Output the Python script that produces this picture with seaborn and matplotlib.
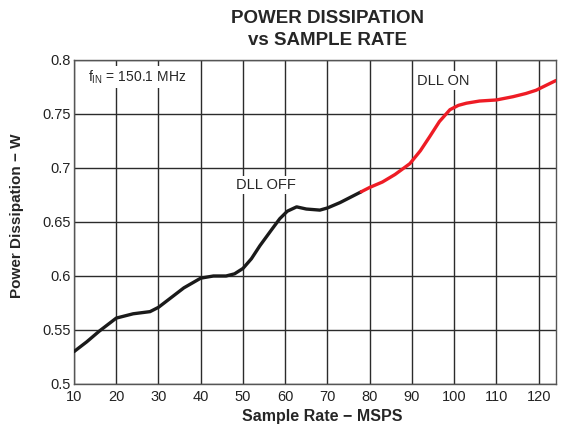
import numpy as np
import pandas as pd
import matplotlib
matplotlib.use("Agg")
import matplotlib.pyplot as plt
import seaborn as sns

# values
dll_off_x = [10, 13, 16, 20, 24, 28, 30, 33, 36, 40, 43, 46, 48, 50, 52, 54, 56.8, 58.7, 60.5, 62.7, 65, 68.2, 70, 73, 76, 78]
dll_off_y = [0.530, 0.539, 0.549, 0.561, 0.565, 0.567, 0.571, 0.580, 0.589, 0.598, 0.600, 0.600, 0.602, 0.607, 0.616, 0.628, 0.643, 0.653, 0.660, 0.664, 0.662, 0.661, 0.663, 0.668, 0.674, 0.678]

dll_on_x = [78, 80, 83, 86, 89.5, 92, 94.2, 96.5, 99, 101, 102.9, 106, 110, 113.9, 117, 119.4, 122, 124.1]
dll_on_y = [0.678, 0.682, 0.687, 0.694, 0.704, 0.716, 0.729, 0.743, 0.754, 0.758, 0.760, 0.762, 0.763, 0.766, 0.769, 0.772, 0.777, 0.781]

x_ticks = [10, 20, 30, 40, 50, 60, 70, 80, 90, 100, 110, 120]
y_ticks = [0.5, 0.55, 0.6, 0.65, 0.7, 0.75, 0.8]

off_df = pd.DataFrame({"rate": dll_off_x, "power": dll_off_y})
on_df = pd.DataFrame({"rate": dll_on_x, "power": dll_on_y})

sns.set_style("white")
plt.rcParams['font.family'] = ['Liberation Sans', 'DejaVu Sans']

fig = plt.figure(figsize=(5.62, 4.36), dpi=100)
ax = fig.add_axes([0.1317, 0.1193, 0.8576, 0.7431])

sns.lineplot(data=off_df, x="rate", y="power", ax=ax, color="#1a1a1a", linewidth=2.4, zorder=3)
sns.lineplot(data=on_df, x="rate", y="power", ax=ax, color="#ee1c25", linewidth=2.4, zorder=3)

ax.set_xlim(10, 124.1)
ax.set_ylim(0.5, 0.8)
ax.set_xticks(x_ticks)
ax.set_yticks(y_ticks)
ax.set_yticklabels([f"{v:g}" for v in y_ticks])
ax.grid(True, color="#2b2b2b", linewidth=1.0, zorder=1)
ax.set_axisbelow(True)
for s in ax.spines.values():
    s.set_color("#555555")
    s.set_linewidth(1.0)
ax.tick_params(axis="both", labelsize=10.5, length=0, colors="#222222")
ax.tick_params(axis="x", pad=4)
ax.tick_params(axis="y", pad=2)

ax.set_xlabel("Sample Rate \u2212 MSPS", fontsize=11.5, fontweight="bold", va="center")
ax.set_ylabel("Power Dissipation \u2212 W", fontsize=11, fontweight="bold", va="center")
ax.xaxis.set_label_coords(0.515, -0.10)
ax.yaxis.set_label_coords(-0.118, 0.52)

box = dict(facecolor="white", edgecolor="none", pad=1.5)
ax.text(13.3, 0.784, "f$_{\\mathregular{IN}}$ = 150.1 MHz", fontsize=10, va="center", ha="left", bbox=box, zorder=4)
ax.text(55.4, 0.684, "DLL OFF", fontsize=10.5, va="center", ha="center", bbox=box, zorder=4)
ax.text(97.3, 0.781, "DLL ON", fontsize=10.5, va="center", ha="center", bbox=box, zorder=4)

fig.text(0.582, 0.958, "POWER DISSIPATION", fontsize=13.5, fontweight="bold", ha="center", va="center")
fig.text(0.582, 0.907, "vs SAMPLE RATE", fontsize=13.5, fontweight="bold", ha="center", va="center")

fig.savefig("out.png", dpi=100)
